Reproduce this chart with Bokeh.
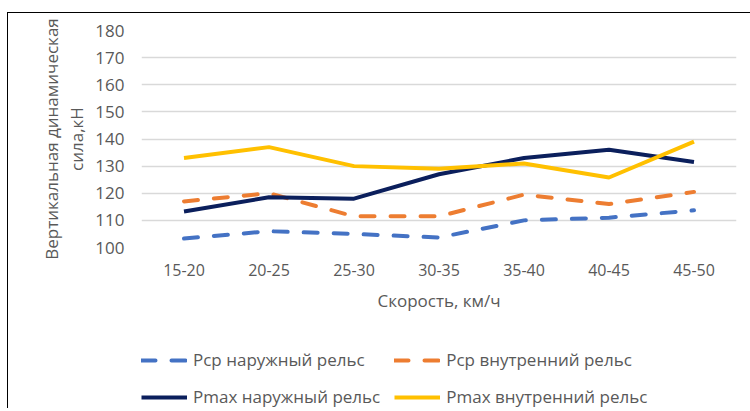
from bokeh.plotting import figure
from bokeh.layouts import column
from bokeh.models import Legend, LegendItem, InlineStyleSheet, FixedTicker, LinearAxis
from bokeh.embed import file_html
from bokeh.resources import INLINE

categories = ["15-20", "20-25", "25-30", "30-35", "35-40", "40-45", "45-50"]
pcp_outer = [103.3, 106.0, 105.0, 103.7, 110.0, 111.0, 113.7]
pcp_inner = [117.0, 120.0, 111.5, 111.5, 119.5, 116.0, 120.5]
pmax_outer = [113.3, 118.5, 118.0, 127.0, 133.0, 136.0, 131.5]
pmax_inner = [133.0, 137.0, 130.0, 129.0, 131.0, 125.8, 139.0]
y_ticks = [100, 110, 120, 130, 140, 150, 160, 170, 180]
series = [pcp_outer, pcp_inner, pmax_outer, pmax_inner]
series_names = ["Рср наружный рельс", "Рср внутренний рельс",
                "Pmax наружный рельс", "Pmax внутренний рельс"]
y_title = ["Вертикальная динамическая", "сила,кН"]
x_title = "Скорость, км/ч"

colors = ["#4472C4", "#ED7D31", "#0B1F5C", "#FFC000"]
dashes = ["14 16", "14 16", "solid", "solid"]

FONT = "Open Sans"
TXT = "#595959"

p = figure(x_range=categories, y_range=(100, 180), width=742, height=312,
           output_backend="svg", toolbar_location=None,
           min_border_left=133, min_border_right=14, min_border_top=17, min_border_bottom=78)
p.outline_line_color = None
p.background_fill_color = "white"
p.border_fill_color = "white"

p.xgrid.grid_line_color = None
p.ygrid.grid_line_color = "#D9D9D9"
p.ygrid.grid_line_width = 1.5
p.yaxis.ticker = FixedTicker(ticks=y_ticks)

y2 = LinearAxis(ticker=FixedTicker(ticks=[]), axis_label=y_title[0])
p.add_layout(y2, "left")

for ax in (p.xaxis[0], p.yaxis[0], y2):
    ax.axis_line_color = None
    ax.major_tick_line_color = None
    ax.minor_tick_line_color = None
    ax.major_label_text_font = FONT
    ax.major_label_text_color = TXT
    ax.axis_label_text_font = FONT
    ax.axis_label_text_font_style = "normal"
    ax.axis_label_text_color = TXT
    ax.axis_label_text_font_size = "17px"

y2.major_tick_out = 0
y2.major_tick_in = 0
y2.minor_tick_out = 0
y2.major_label_text_font_size = "0px"
y2.major_label_standoff = 0
y2.axis_label_standoff = 0

p.yaxis[0].major_label_text_font_size = "17px"
p.xaxis.major_label_text_font_size = "16px"
p.yaxis[0].major_label_standoff = 11
p.xaxis.major_label_standoff = 10

p.xaxis.axis_label = x_title
p.xaxis.axis_label_standoff = 10

p.yaxis[0].axis_label = y_title[1]
p.yaxis[0].axis_label_standoff = 4

for vals, c, d in zip(series, colors, dashes):
    p.line(categories, vals, line_color=c, line_width=4,
           line_dash=d, line_cap="round" if d != "solid" else "butt")

# legend panel: a second figure holding hidden copies of the series for the legend
q = figure(x_range=categories, y_range=(100, 180), width=742, height=83,
           output_backend="svg", toolbar_location=None,
           x_axis_type=None, y_axis_type=None,
           min_border_left=0, min_border_right=0, min_border_top=0, min_border_bottom=0)
q.outline_line_color = None
q.grid.grid_line_color = None
q.background_fill_color = "white"
q.border_fill_color = "white"
leg_r = []
for vals, c, d in zip(series, colors, dashes):
    r = q.line(categories, vals, line_color=c, line_width=4,
               line_dash=d, line_cap="round" if d != "solid" else "butt")
    r.visible = False
    leg_r.append(r)

legend = Legend(items=[LegendItem(label=n, renderers=[r]) for n, r in zip(series_names, leg_r)],
                nrows=2, location=(0, 0), orientation="horizontal",
                glyph_width=46, glyph_height=20, label_height=20,
                label_text_font=FONT, label_text_font_size="17px", label_text_color=TXT,
                label_standoff=6, spacing=14, padding=0, margin=0,
                border_line_color=None, background_fill_alpha=0,
                inactive_fill_alpha=0)
q.add_layout(legend, "center")

layout = column(p, q, spacing=0)
layout.stylesheets = [InlineStyleSheet(css=":host { margin-left: 7px; margin-top: 12px; border-top: 1px solid #000; border-left: 1px solid #000; }")]

open("out.html", "w").write(file_html(layout, INLINE))
